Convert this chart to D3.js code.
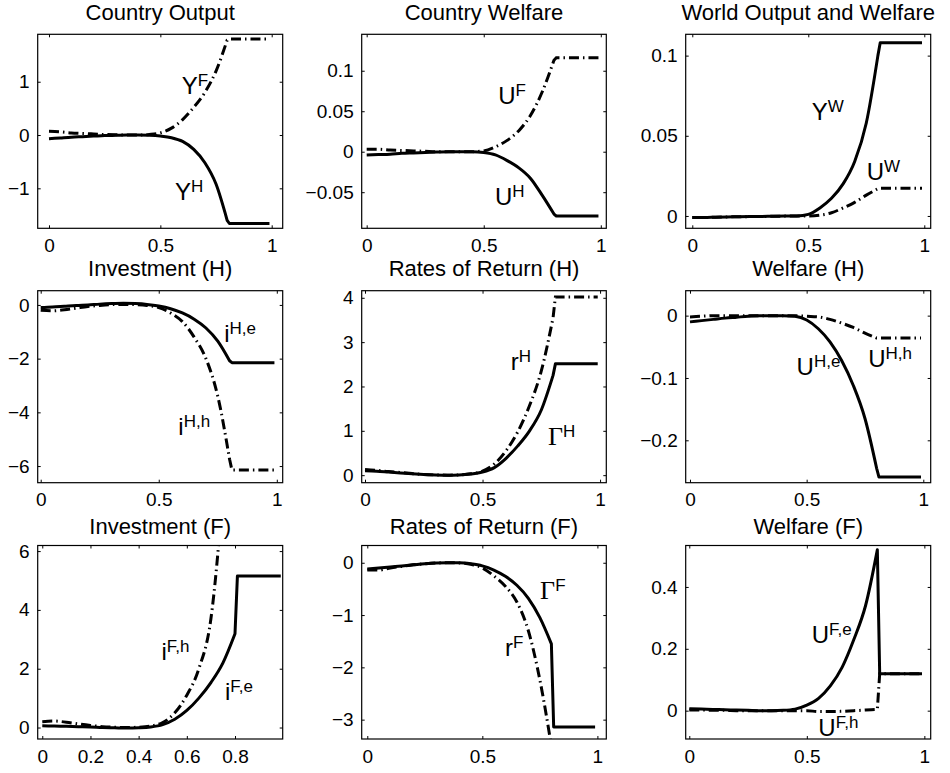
<!DOCTYPE html>
<html><head><meta charset="utf-8">
<script src="https://cdn.jsdelivr.net/npm/d3@7"></script>
<style>
body{margin:0;background:#fff}
svg{display:block}
text{font-family:"Liberation Sans",Arial,Helvetica,sans-serif;fill:#000}
</style>
</head><body>
<svg id="c" width="950" height="773"></svg>
<script>
// ---------------- data ----------------
const xGrid = [0,0.05,0.1,0.15,0.2,0.25,0.3,0.35,0.4,0.45,0.5,0.55,0.6,0.65,0.7,0.75,0.8,0.81,0.99];
const KINK = 16;

// Country Output
const outH = [-0.07,-0.055,-0.04,-0.03,-0.02,-0.01,-0.005,0,0,-0.005,-0.02,-0.05,-0.12,-0.27,-0.52,-0.92,-1.6,-1.66,-1.66];
const outF = [0.07,0.06,0.04,0.03,0.02,0.01,0.005,0,0,0.01,0.04,0.13,0.29,0.52,0.8,1.2,1.78,1.8,1.8];
// Country Welfare
const welH = [-0.004,-0.0035,-0.003,-0.002,-0.0015,-0.001,-0.0005,0,0,0,-0.001,-0.004,-0.011,-0.02,-0.033,-0.054,-0.077,-0.0794,-0.0794];
const welF = [0.003,0.003,0.002,0.0015,0.001,0.0005,0,0,0,0,0.001,0.006,0.014,0.026,0.045,0.074,0.113,0.116,0.116];
// World Output and Welfare
const worldY = [-0.001,-0.001,-0.0008,-0.0006,-0.0005,-0.0004,-0.0003,-0.0002,-0.0001,0,0.001,0.005,0.011,0.02,0.034,0.058,0.1,0.108,0.108];
const worldU = [-0.001,-0.001,-0.0008,-0.0006,-0.0005,-0.0004,-0.0003,-0.0002,-0.0001,0,0,0.0005,0.002,0.005,0.0085,0.013,0.017,0.0173,0.0173];
// Investment (H)
const invHe = [-0.1,-0.08,-0.05,-0.02,0,0.03,0.05,0.06,0.05,0.02,-0.04,-0.14,-0.3,-0.53,-0.86,-1.35,-2.08,-2.15,-2.15];
const invHh = [-0.2,-0.22,-0.18,-0.12,-0.06,-0.02,0.01,0.02,0.01,-0.02,-0.1,-0.3,-0.62,-1.2,-2.0,-3.4,-5.75,-6.15,-6.15];
// Rates of Return (H)
const retHG = [0.1,0.09,0.07,0.05,0.03,0.015,0.005,0,0.005,0.025,0.07,0.17,0.38,0.66,1.0,1.47,2.25,2.51,2.51];
const retHr = [0.13,0.11,0.08,0.06,0.035,0.015,0.005,0,0.005,0.03,0.09,0.25,0.55,0.98,1.57,2.35,3.55,4.02,4.02];
// Welfare (H)
const welHe = [-0.01,-0.008,-0.006,-0.004,-0.0025,-0.001,0,0,0,-0.001,-0.007,-0.021,-0.042,-0.072,-0.112,-0.165,-0.245,-0.259,-0.259];
const welHh = [-0.002,-0.001,0,0,0,0,0,0,0,0,-0.001,-0.002,-0.006,-0.012,-0.019,-0.028,-0.036,-0.036,-0.036];
// Investment (F)
const invFe = [0.06,0.05,0.04,0.03,0.02,0,-0.01,-0.02,-0.01,0.02,0.1,0.28,0.58,1.0,1.53,2.2,3.19,5.15,5.15];
const invFh = [0.2,0.22,0.18,0.12,0.07,0.03,0.01,0,0.01,0.05,0.17,0.5,1.1,2.0,3.7,8,14,14,14];
// Rates of Return (F)
const retFG = [-0.12,-0.1,-0.08,-0.06,-0.04,-0.02,-0.005,0,0,-0.02,-0.06,-0.14,-0.26,-0.43,-0.68,-1.05,-1.55,-3.14,-3.14];
const retFr = [-0.14,-0.14,-0.1,-0.07,-0.04,-0.02,-0.005,0,-0.005,-0.03,-0.1,-0.25,-0.45,-0.75,-1.3,-2.24,-3.5,-4.5,-4.5];
// Welfare (F)
const welFe = [0.006,0.005,0.004,0.003,0.002,0.001,0,0,0.001,0.005,0.018,0.04,0.08,0.14,0.23,0.34,0.52,0.119,0.119];
const welFh = [0.002,0.002,0.001,0.001,0,0,0,0,0,0,0,-0.003,-0.003,-0.002,0,0.002,0.004,0.119,0.119];

// tick labels
const xTicksStd = [0,0.5,1];
const xTicksFine = [0,0.2,0.4,0.6,0.8];
const yTicks = [
  [-1,0,1],[-0.05,0,0.05,0.1],[0,0.05,0.1],
  [-6,-4,-2,0],[0,1,2,3,4],[-0.2,-0.1,0],
  [0,2,4,6],[-3,-2,-1,0],[0,0.2,0.4]
];
const titles = ["Country Output","Country Welfare","World Output and Welfare",
  "Investment  (H)","Rates of Return (H)","Welfare (H)",
  "Investment  (F)","Rates of Return (F)","Welfare (F)"];

// ---------------- panel config ----------------
const panels = [
 {xd:[-0.0507,1.0494], yd:[-1.75,1.89], xt:xTicksStd, solid:outH, dash:outF,
  labels:[{b:"Y",s:"F",x:0.596,y:0.77},{b:"Y",s:"H",x:0.566,y:-1.22}]},
 {xd:[-0.0213,1.0235], yd:[-0.0946,0.145], xt:xTicksStd, solid:welH, dash:welF,
  labels:[{b:"U",s:"F",x:0.562,y:0.059},{b:"U",s:"H",x:0.548,y:-0.0658}]},
 {xd:[-0.0284,1.0276], yd:[-0.0077,0.1133], xt:xTicksStd, solid:worldY, dash:worldU,
  labels:[{b:"Y",s:"W",x:0.515,y:0.0599},{b:"U",s:"W",x:0.752,y:0.0224}]},
 {xd:[-0.0127,1.025], yd:[-6.62,0.53], xt:xTicksStd, solid:invHe, dash:invHh,
  labels:[{b:"i",s:"H,e",x:0.777,y:-1.37},{b:"i",s:"H,h",x:0.583,y:-4.85}]},
 {xd:[-0.0141,1.0265], yd:[-0.17,4.16], xt:xTicksStd, solid:retHG, dash:retHr,
  labels:[{b:"r",s:"H",x:0.62,y:2.38},{b:"Γ",s:"H",x:0.778,y:0.685,serif:true}]},
 {xd:[-0.0184,1.0317], yd:[-0.268,0.040], xt:xTicksStd, solid:welHe, dash:welHh,
  labels:[{b:"U",s:"H,e",x:0.457,y:-0.0953},{b:"U",s:"H,h",x:0.764,y:-0.082}]},
 {xd:[-0.019,0.998], yd:[-0.39,6.19], xt:xTicksFine, solid:invFe, dash:invFh,
  labels:[{b:"i",s:"F,h",x:0.495,y:2.29},{b:"i",s:"F,e",x:0.758,y:0.93}]},
 {xd:[-0.0243,1.0387], yd:[-3.37,0.33], xt:xTicksStd, solid:retFG, dash:retFr,
  labels:[{b:"Γ",s:"F",x:0.751,y:-0.70,serif:true},{b:"r",s:"F",x:0.599,y:-1.79}]},
 {xd:[-0.0153,1.027], yd:[-0.0916,0.534], xt:xTicksStd, solid:welFe, dash:welFh,
  labels:[{b:"U",s:"F,e",x:0.521,y:0.219},{b:"U",s:"F,h",x:0.549,y:-0.083}]}
];

// ---------------- layout ----------------
const cols = [[37.7,282.7],[361.7,606.3],[685.7,930.7]];
const rows = [[34.3,228.3],[290.7,482.7],[545.5,739]];
const titleY = [20,276,533.5];
const xPad = [10,10,10.5];
const TICK_FS = 19, TITLE_FS = 22, LAB_FS = 24, SUP_FS = 17;

const svg = d3.select("#c");
const defs = svg.append("defs");
const fmt = d => String(d).replace("-","\u2212");

panels.forEach((p,i)=>{
  const col = i%3, row = Math.floor(i/3);
  const [x0,x1] = cols[col], [y0,y1] = rows[row];
  const x = d3.scaleLinear().domain(p.xd).range([x0,x1]);
  const y = d3.scaleLinear().domain(p.yd).range([y1,y0]);
  const g = svg.append("g");

  defs.append("clipPath").attr("id","clip"+i)
    .append("rect").attr("x",x0).attr("y",y0).attr("width",x1-x0).attr("height",y1-y0);

  const styleAxis = sel => {
    sel.select(".domain").remove();
    sel.selectAll("line").attr("stroke","#000").attr("stroke-width",1);
    sel.selectAll("text").attr("font-size",TICK_FS).attr("font-family","Liberation Sans, Arial, sans-serif").attr("fill","#000");
    sel.attr("font-size",null).attr("font-family",null);
  };
  g.append("g").attr("transform",`translate(0,${y1})`)
    .call(d3.axisBottom(x).tickValues(p.xt).tickSize(-3).tickPadding(xPad[row]).tickFormat(fmt)).call(styleAxis);
  g.append("g").attr("transform",`translate(0,${y0})`)
    .call(d3.axisTop(x).tickValues(p.xt).tickSize(-3).tickFormat("")).call(styleAxis);
  g.append("g").attr("transform",`translate(${x0},0)`)
    .call(d3.axisLeft(y).tickValues(yTicks[i]).tickSize(-3).tickPadding(8).tickFormat(fmt)).call(styleAxis);
  g.append("g").attr("transform",`translate(${x1},0)`)
    .call(d3.axisRight(y).tickValues(yTicks[i]).tickSize(-3).tickFormat("")).call(styleAxis);

  // lines: smooth up to the kink, straight after it
  const lineA = d3.line().x(d=>x(d[0])).y(d=>y(d[1])).curve(d3.curveMonotoneX);
  const lineB = d3.line().x(d=>x(d[0])).y(d=>y(d[1]));
  const pathFor = vals => {
    const pts = xGrid.map((xv,k)=>[xv,vals[k]]);
    const a = lineA(pts.slice(0,KINK+1));
    const b = lineB(pts.slice(KINK));
    return a + b.slice(b.indexOf("L"));
  };
  const lg = g.append("g").attr("clip-path",`url(#clip${i})`);
  lg.append("path").attr("d",pathFor(p.solid)).attr("fill","none")
    .attr("stroke","#000").attr("stroke-width",3).attr("stroke-linejoin","round");
  lg.append("path").attr("d",pathFor(p.dash)).attr("fill","none")
    .attr("stroke","#000").attr("stroke-width",3).attr("stroke-dasharray","10,4,1.5,4");

  // box
  g.append("rect").attr("x",x0).attr("y",y0).attr("width",x1-x0).attr("height",y1-y0)
    .attr("fill","none").attr("stroke","#000").attr("stroke-width",1.2);

  // title
  svg.append("text").attr("x",(x0+x1)/2).attr("y",titleY[row]).attr("text-anchor","middle")
    .attr("font-size",TITLE_FS).text(titles[i]);

  // annotations
  p.labels.forEach(l=>{
    const t = g.append("text").attr("x",x(l.x)).attr("y",y(l.y));
    t.append("tspan").attr("font-size",l.serif?26:LAB_FS)
      .attr("font-family",l.serif?"Liberation Serif, Times New Roman, serif":null).text(l.b);
    t.append("tspan").attr("font-size",SUP_FS).attr("dy",-8).text(l.s);
  });
});
</script>
</body></html>
